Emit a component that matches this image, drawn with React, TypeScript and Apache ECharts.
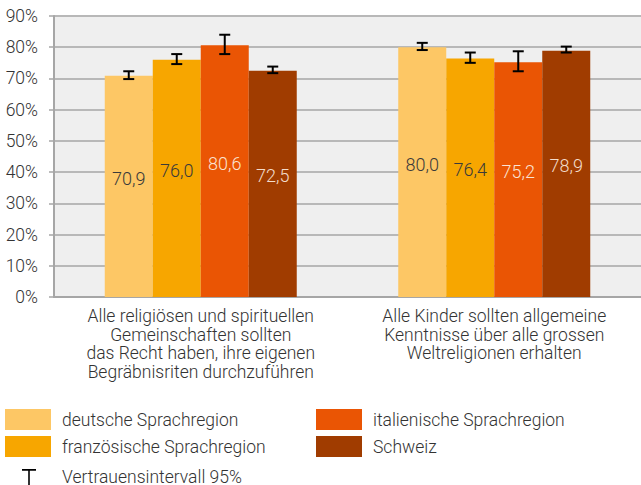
import React, { useEffect, useRef } from "react";
import * as echarts from "echarts";

const categories = [
  "Alle religiösen und spirituellen\nGemeinschaften sollten\ndas Recht haben, ihre eigenen\nBegräbnisriten durchzuführen",
  "Alle Kinder sollten allgemeine\nKenntnisse über alle grossen\nWeltreligionen erhalten",
];
const seriesNames = [
  "deutsche Sprachregion",
  "französische Sprachregion",
  "italienische Sprachregion",
  "Schweiz",
];
const colors = ["#fdc765", "#f7a600", "#ea5504", "#a03c00"];
const labelColors = ["#3a3a3a", "#3a3a3a", "#fbe3d2", "#f3dccb"];
const values = [
  [70.9, 80.0],
  [76.0, 76.4],
  [80.6, 75.2],
  [72.5, 78.9],
];
const lows = [
  [69.8, 79.1],
  [74.6, 75.0],
  [77.8, 72.3],
  [71.7, 78.3],
];
const highs = [
  [72.3, 81.4],
  [77.8, 78.3],
  [84.0, 78.7],
  [73.8, 80.2],
];
const yTicks = [0, 10, 20, 30, 40, 50, 60, 70, 80, 90];
const ciName = "Vertrauensintervall 95%";

const FONT = "Roboto";
const ciIcon =
  "path://M0,0H0.01V0.01H0Z M45.99,20.99H46V21H45.99Z M17,3H31V4.8H17Z M23.2,3H24.8V21H23.2Z M19,20.3H29V21H19Z";

export default function App() {
  const ref = useRef<HTMLDivElement>(null);
  useEffect(() => {
    document.body.style.margin = "0";
    const chart = echarts.init(ref.current!, null, { renderer: "svg" });
    const BW = 48;
    const errData: number[][] = [];
    values.forEach((_, s) => {
      categories.forEach((_, c) => {
        errData.push([c, s, lows[s][c], highs[s][c]]);
      });
    });
    const barSeries = seriesNames.map((name, i) => ({
      type: "bar",
      name,
      data: values[i],
      barWidth: BW,
      barGap: "0%",
      itemStyle: { color: colors[i] },
      label: {
        show: true,
        position: "inside",
        offset: [0, -8],
        fontFamily: FONT,
        fontWeight: 300,
        fontSize: 18,
        color: labelColors[i],
        formatter: (p: any) => Number(p.value).toFixed(1).replace(".", ","),
      },
    }));
    const legendText = { fontFamily: FONT, fontWeight: 300, fontSize: 17.5, color: "#333", padding: [0, 0, 0, 6] };
    const legendBase = {
      orient: "vertical",
      itemWidth: 46,
      itemHeight: 21,
      itemGap: 6,
      icon: "rect",
      textStyle: legendText,
      selectedMode: false,
    };
    const option: any = {
      animation: false,
      textStyle: { fontFamily: FONT },
      grid: { left: 54, top: 16, width: 592, height: 281 },
      xAxis: {
        type: "category",
        data: categories,
        axisLine: { show: true, lineStyle: { color: "#a6a6a6", width: 2 } },
        axisTick: { show: false },
        axisLabel: {
          interval: 0,
          fontFamily: FONT,
          fontWeight: 300,
          fontSize: 17.5,
          lineHeight: 18.5,
          color: "#333",
          margin: 10,
          align: "center",
        },
      },
      yAxis: {
        type: "value",
        min: 0,
        max: 90,
        interval: 10,
        splitArea: { show: true, areaStyle: { color: ["#efefef", "#efefef"] } },
        splitLine: { show: true, lineStyle: { color: "#b8b8b8", width: 2 } },
        axisLine: { show: true, lineStyle: { color: "#a6a6a6", width: 2 } },
        axisTick: { show: true, length: 5, lineStyle: { color: "#a6a6a6", width: 1.5 } },
        axisLabel: {
          fontFamily: FONT,
          fontWeight: 300,
          fontSize: 17.5,
          color: "#333",
          margin: 16,
          formatter: (v: number) => (yTicks.includes(v) ? v + "%" : ""),
        },
      },
      legend: [
        { ...legendBase, left: 0, top: 404, data: [seriesNames[0], seriesNames[1]] },
        { ...legendBase, left: 311, top: 404, data: [seriesNames[2], seriesNames[3]] },
        {
          ...legendBase,
          left: 0,
          top: 461,
          data: [{ name: ciName, icon: ciIcon }],
        },
      ],
      series: [
        ...barSeries,
        {
          type: "custom",
          name: ciName,
          itemStyle: { color: "#000" },
          data: errData,
          z: 10,
          renderItem: (params: any, api: any) => {
            const c = api.value(0);
            const s = api.value(1);
            const lo = api.coord([c, api.value(2)]);
            const hi = api.coord([c, api.value(3)]);
            const x = lo[0] + (s - 1.5) * BW;
            const hw = 5.5;
            const style = { stroke: "#000", lineWidth: 2, fill: "none" };
            return {
              type: "group",
              children: [
                { type: "line", shape: { x1: x, y1: lo[1], x2: x, y2: hi[1] }, style },
                { type: "line", shape: { x1: x - hw, y1: lo[1], x2: x + hw, y2: lo[1] }, style },
                { type: "line", shape: { x1: x - hw, y1: hi[1], x2: x + hw, y2: hi[1] }, style },
              ],
            };
          },
        },
      ],
    };
    chart.setOption(option);
    return () => chart.dispose();
  }, []);
  return <div ref={ref} style={{ width: 641, height: 485 }} />;
}
